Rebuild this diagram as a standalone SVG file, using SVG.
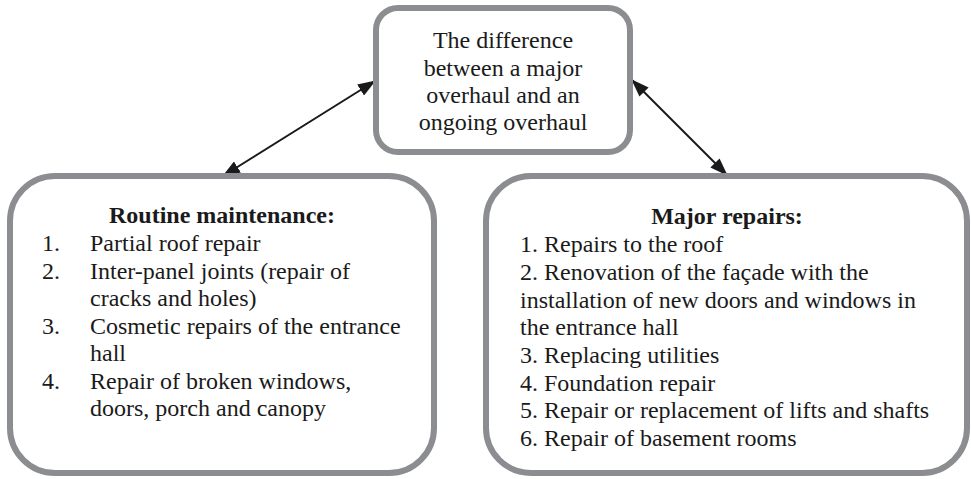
<svg xmlns="http://www.w3.org/2000/svg" width="971" height="479" viewBox="0 0 971 479">
<style>
.box{fill:#ffffff;stroke:#8c8d90;stroke-width:6}
text{font-family:"Liberation Serif","Times New Roman",serif;font-size:24px;fill:#1a1a1a}
.c{text-anchor:middle}
.b{font-weight:bold}
.conn{stroke:#1a1a1a;stroke-width:2;fill:none;marker-start:url(#ah);marker-end:url(#ah)}
</style>
<defs>
<marker id="ah" viewBox="0 0 18 13" refX="17" refY="6.5" markerUnits="userSpaceOnUse" markerWidth="18" markerHeight="13" orient="auto-start-reverse">
<path d="M0,0 L18,6.5 L0,13 z" fill="#1a1a1a"/>
</marker>
</defs>
<rect width="971" height="479" fill="#ffffff"/>
<g id="connectors">
<line class="conn" x1="375" y1="81" x2="223" y2="176"/>
<line class="conn" x1="632" y1="80" x2="727" y2="175"/>
</g>
<g id="top">
<rect class="box" x="376" y="8" width="254" height="144" rx="22"/>
<text class="c" x="503" y="48">The difference</text>
<text class="c" x="503" y="75.5">between a major</text>
<text class="c" x="503" y="103">overhaul and an</text>
<text class="c" x="503" y="130">ongoing overhaul</text>
</g>
<g id="routine">
<rect class="box" x="10" y="176" width="424" height="297" rx="45"/>
<text class="c b" x="222" y="223">Routine maintenance:</text>
<text x="42" y="251">1.</text><text x="90" y="251">Partial roof repair</text>
<text x="42" y="278.5">2.</text><text x="90" y="278.5">Inter-panel joints (repair of</text>
<text x="90" y="306">cracks and holes)</text>
<text x="42" y="333.5">3.</text><text x="90" y="333.5">Cosmetic repairs of the entrance</text>
<text x="90" y="361">hall</text>
<text x="42" y="388.5">4.</text><text x="90" y="388.5">Repair of broken windows,</text>
<text x="90" y="416">doors, porch and canopy</text>
</g>
<g id="major">
<rect class="box" x="486" y="176" width="481" height="297" rx="45"/>
<text class="c b" x="727" y="224">Major repairs:</text>
<text x="520" y="252">1. Repairs to the roof</text>
<text x="520" y="280">2. Renovation of the façade with the</text>
<text x="520" y="307.5">installation of new doors and windows in</text>
<text x="520" y="335">the entrance hall</text>
<text x="520" y="363">3. Replacing utilities</text>
<text x="520" y="390.5">4. Foundation repair</text>
<text x="520" y="418">5. Repair or replacement of lifts and shafts</text>
<text x="520" y="446">6. Repair of basement rooms</text>
</g>
</svg>
